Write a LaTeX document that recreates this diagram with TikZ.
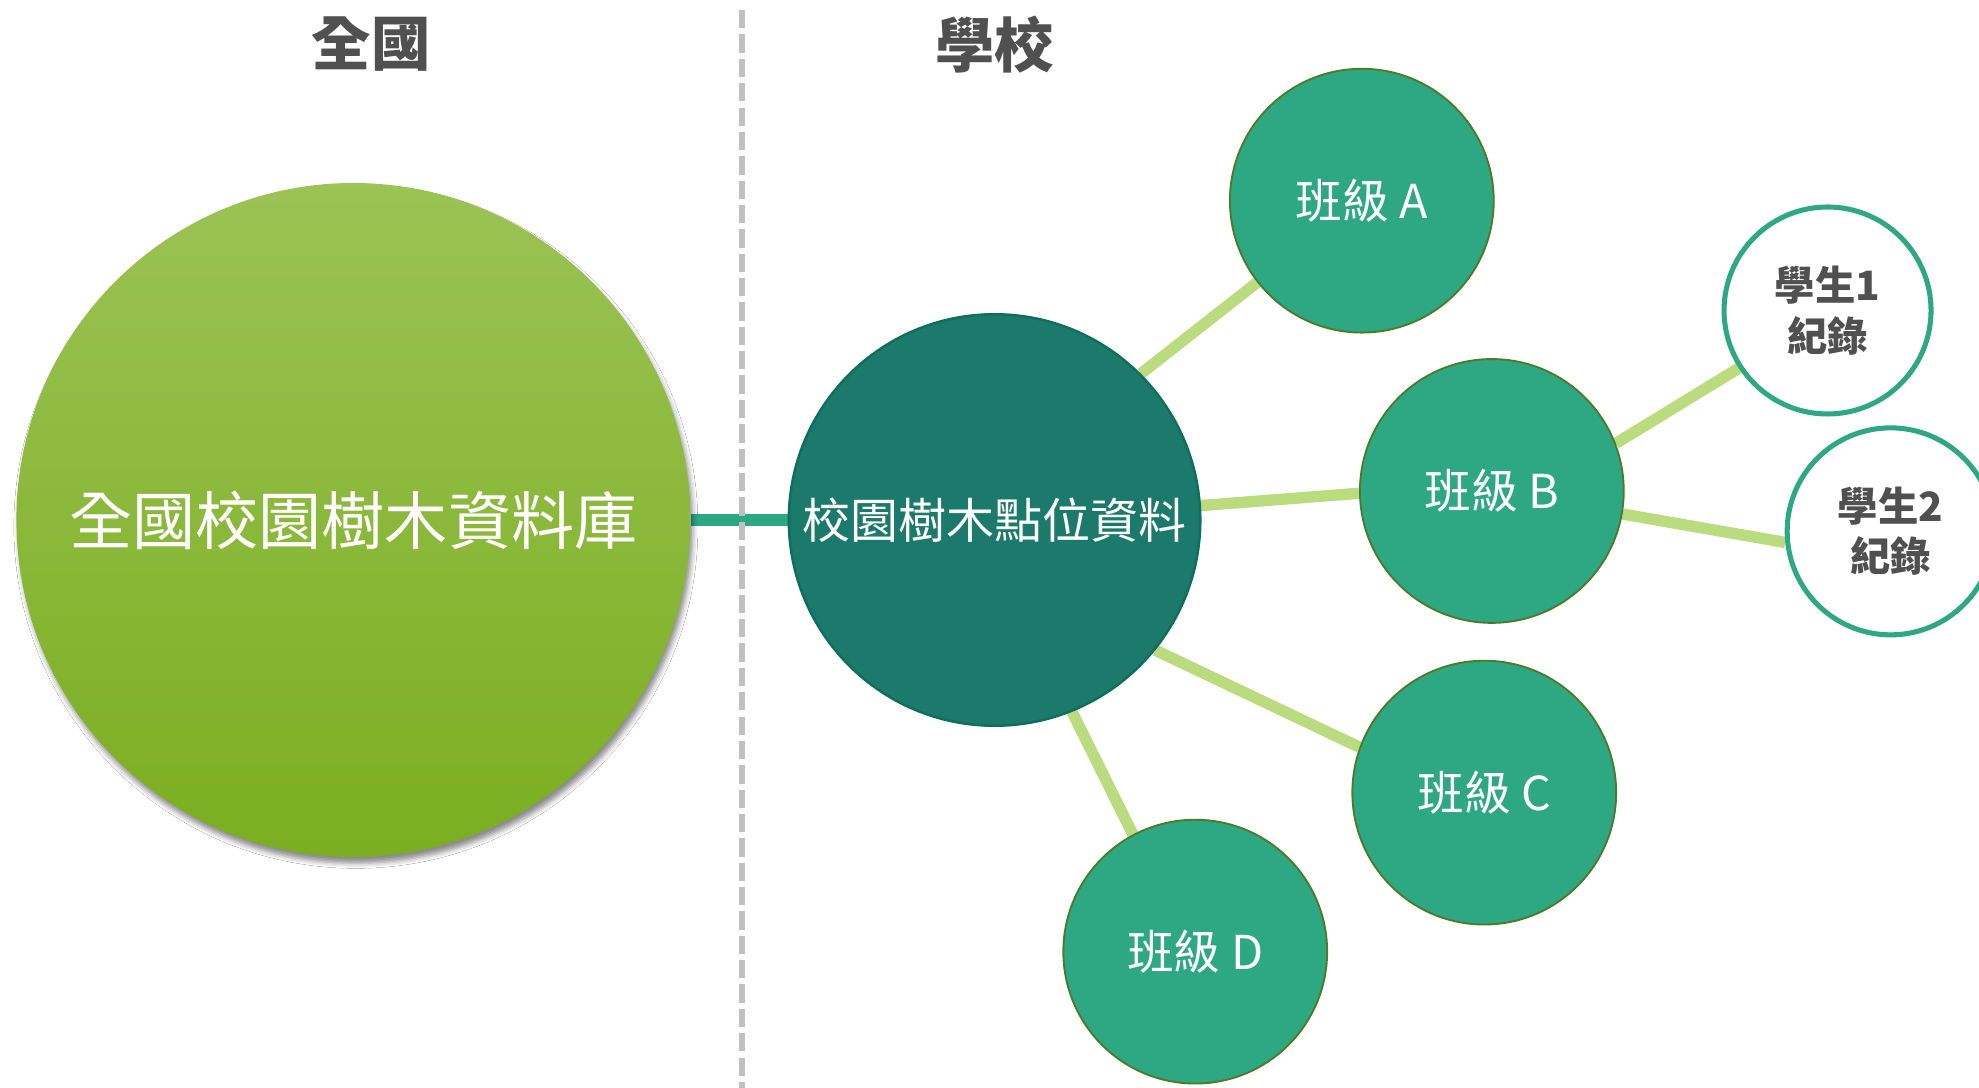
\documentclass[tikz,border=0pt]{standalone}
\usepackage{fontspec}
\newfontfamily\cjk{Noto Sans CJK TC}
\usetikzlibrary{shadows.blur,backgrounds}
\definecolor{gtop}{HTML}{9BC355}
\definecolor{gbot}{HTML}{7BAE20}
\definecolor{teal1}{HTML}{2EA883}
\definecolor{dteal}{HTML}{1B7A6B}
\definecolor{dtealb}{HTML}{0F6E5C}
\definecolor{olive}{HTML}{4B7B2B}
\definecolor{lgreen}{HTML}{BADC7E}
\definecolor{txtgray}{HTML}{505050}
\definecolor{dashgray}{HTML}{C0C0C0}
\begin{document}
\begin{tikzpicture}[x=1pt,y=-1pt,
  bigcircle/.style={circle, minimum size=534pt, inner sep=0pt, top color=gtop, bottom color=gbot, draw=none,
    blur shadow={shadow xshift=2pt, shadow yshift=-5pt, shadow blur radius=4pt, shadow opacity=45},
    text=white, font=\cjk\fontsize{50}{60}\selectfont},
  ctrcircle/.style={circle, minimum size=326pt, inner sep=0pt, fill=dteal, draw=dtealb, line width=2pt,
    text=white, font=\cjk\fontsize{38}{46}\selectfont},
  classcircle/.style={circle, minimum size=209pt, inner sep=0pt, fill=teal1, draw=olive, line width=1.5pt,
    text=white, font=\cjk\fontsize{37}{44}\selectfont},
  studcircle/.style={circle, minimum size=164pt, inner sep=0pt, fill=white, draw=teal1, line width=4pt,
    text=txtgray, align=center, font=\cjk\bfseries\fontsize{32}{40}\selectfont},
  heading/.style={text=txtgray, font=\cjk\bfseries\fontsize{47}{56}\selectfont},
  conn/.style={draw=lgreen, line width=9pt},
  tealconn/.style={draw=teal1, line width=10pt},
  dashline/.style={draw=dashgray, line width=4.5pt, dash pattern=on 14.5pt off 4.8pt}
]
\useasboundingbox (0,0) rectangle (1568,862);

\node[heading] (hnat) at (294,35) {全國};
\node[heading] (hsch) at (788,35) {學校};

\node[bigcircle] (big) at (280,412) {全國校園樹木資料庫};
\node[ctrcircle] (ctr) at (788,412) {校園樹木點位資料};
\node[classcircle] (A) at (1079,159) {班級 A};
\node[classcircle] (B) at (1182,389) {班級 B};
\node[classcircle] (C) at (1176,628) {班級 C};
\node[classcircle] (D) at (947,754) {班級 D};
\node[studcircle] (S1) at (1448,246) {學生1\\紀錄};
\node[studcircle] (S2) at (1498,421) {學生2\\紀錄};

\coordinate (dtop) at (588,8);
\coordinate (dbot) at (588,862);

\begin{scope}[on background layer]
  \fill[white] (0,0) rectangle (1568,862);
  \draw[tealconn] (big.east) -- (ctr.west);
  \draw[dashline] (dtop) -- (dbot);
  \draw[conn] (ctr.45.2) -- (A.218.8);
  \draw[conn] (ctr.4.2) -- (B.181.6);
  \draw[conn] (ctr.-39.6) -- (C.160.5);
  \draw[conn] (ctr.-68.5) -- (D.118.8);
  \draw[conn] (B.21.7) -- (S1.213.9);
  \draw[conn] (B.-10.4) -- (S2.186);
\end{scope}
\end{tikzpicture}
\end{document}
